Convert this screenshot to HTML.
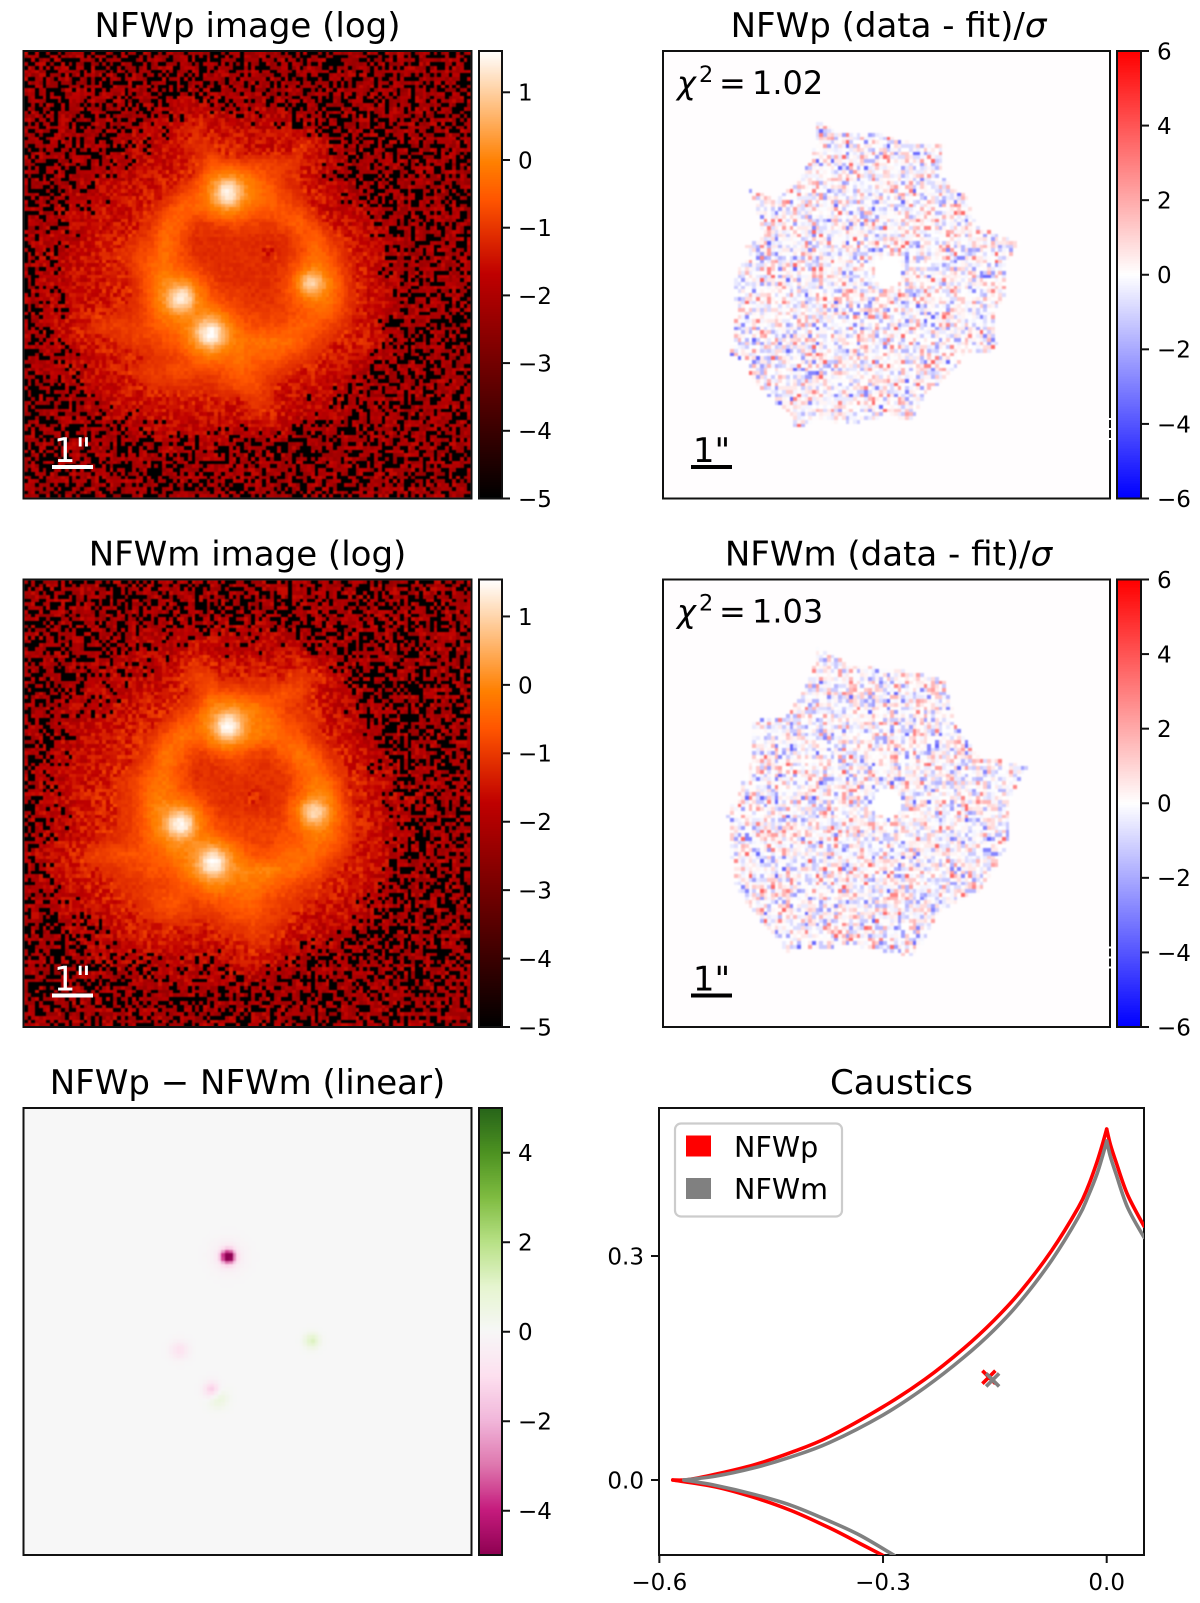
<!DOCTYPE html>
<html lang="en">
<head>
<meta charset="utf-8">
<title>NFWp / NFWm lens model comparison</title>
<style>
html,body{margin:0;padding:0;background:#fff;}
#figure{position:relative;width:1200px;height:1603px;overflow:hidden;background:#fff;font-family:"DejaVu Sans","Liberation Sans",sans-serif;}
canvas{position:absolute;display:block;}
.heat-log{filter:blur(.45px);}
.heat-soft{filter:blur(.7px);}
svg{position:absolute;left:0;top:0;}
svg text{font-family:"DejaVu Sans","Liberation Sans",sans-serif;fill:#000;}
</style>
</head>
<body>
<div id="figure">
  <canvas id="heat-p" class="heat-log" width="447" height="447" style="left:24px;top:51px"></canvas>
  <canvas id="cb-p" width="23" height="447" style="left:479px;top:51px"></canvas>
  <canvas id="res-p" class="heat-soft" width="447" height="447" style="left:663px;top:51px"></canvas>
  <canvas id="cbr-p" width="24" height="447" style="left:1117px;top:51px"></canvas>
  <canvas id="heat-m" class="heat-log" width="447" height="447" style="left:24px;top:580px"></canvas>
  <canvas id="cb-m" width="23" height="447" style="left:479px;top:580px"></canvas>
  <canvas id="res-m" class="heat-soft" width="447" height="447" style="left:663px;top:580px"></canvas>
  <canvas id="cbr-m" width="24" height="447" style="left:1117px;top:580px"></canvas>
  <canvas id="diff" class="heat-soft" width="447" height="447" style="left:24px;top:1108px"></canvas>
  <canvas id="cb-d" width="23" height="447" style="left:479px;top:1108px"></canvas>

  <svg id="overlay" width="1200" height="1603" viewBox="0 0 1200 1603">
    <defs><clipPath id="caustic-clip"><rect x="659" y="1108" width="485" height="447"/></clipPath></defs>

    <text x="247.5" y="37" font-size="34" text-anchor="middle">NFWp image (log)</text>
    <text x="888.5" y="37" font-size="34" text-anchor="middle">NFWp (data - fit)/<tspan font-style="italic">σ</tspan></text>
    <text x="247.5" y="565.5" font-size="34" text-anchor="middle">NFWm image (log)</text>
    <text x="888.5" y="565.5" font-size="34" text-anchor="middle">NFWm (data - fit)/<tspan font-style="italic">σ</tspan></text>
    <text x="247.5" y="1094" font-size="34" text-anchor="middle">NFWp − NFWm (linear)</text>
    <text x="901.5" y="1094" font-size="34" text-anchor="middle">Caustics</text>

    <text y="94" font-size="32"><tspan x="677" font-style="italic">χ</tspan><tspan x="699" y="82" font-size="22.4">2</tspan><tspan x="719" y="94">=</tspan><tspan x="752" y="94">1.02</tspan></text>
    <text y="622.5" font-size="32"><tspan x="677" font-style="italic">χ</tspan><tspan x="699" y="610.5" font-size="22.4">2</tspan><tspan x="719" y="622.5">=</tspan><tspan x="752" y="622.5">1.03</tspan></text>

    <g>
      <rect x="52" y="465" width="41" height="4" style="fill:#fff"/>
      <text x="72.5" y="462" font-size="34" text-anchor="middle" style="fill:#fff">1"</text>
    </g>
    <g>
      <rect x="52" y="993.5" width="41" height="4" style="fill:#fff"/>
      <text x="72.5" y="990.5" font-size="34" text-anchor="middle" style="fill:#fff">1"</text>
    </g>
    <g>
      <rect x="691" y="465" width="41" height="4"/>
      <text x="711.5" y="462" font-size="34" text-anchor="middle">1"</text>
    </g>
    <g>
      <rect x="691" y="993.5" width="41" height="4"/>
      <text x="711.5" y="990.5" font-size="34" text-anchor="middle">1"</text>
    </g>

    <g id="frames" fill="none" stroke="#111" stroke-width="2">
      <rect x="23.5" y="51" width="448" height="447.5"/>
      <rect x="479" y="51" width="23" height="447.5"/>
      <rect x="663" y="51" width="447" height="447.5"/>
      <rect x="1117" y="51" width="24" height="447.5"/>
      <rect x="23.5" y="579.5" width="448" height="447.5"/>
      <rect x="479" y="579.5" width="23" height="447.5"/>
      <rect x="663" y="579.5" width="447" height="447.5"/>
      <rect x="1117" y="579.5" width="24" height="447.5"/>
      <rect x="23.5" y="1108" width="448" height="447"/>
      <rect x="479" y="1108" width="23" height="447"/>
      <rect x="659" y="1108" width="485" height="447"/>
    </g>

    <g>
      <rect x="1108.5" y="418" width="3" height="2" style="fill:#fff"/>
      <rect x="1108.5" y="428" width="3" height="2" style="fill:#fff"/>
      <rect x="1108.5" y="438" width="3" height="2" style="fill:#fff"/>
      <rect x="1108.5" y="946.5" width="3" height="2" style="fill:#fff"/>
      <rect x="1108.5" y="956.5" width="3" height="2" style="fill:#fff"/>
      <rect x="1108.5" y="966.5" width="3" height="2" style="fill:#fff"/>
    </g>

    <g id="ticks"></g>
    <g id="caustic-lines" clip-path="url(#caustic-clip)"></g>
    <g id="source-marks"></g>

    <g>
      <rect x="675" y="1123.5" width="167" height="93" rx="6" ry="6" fill="#fff" fill-opacity=".8" stroke="#ccc" stroke-width="2.2"/>
      <rect x="686" y="1135.5" width="25" height="21" fill="#f00"/>
      <text x="734" y="1157" font-size="28.6">NFWp</text>
      <rect x="686" y="1178" width="25" height="21" fill="#808080"/>
      <text x="734" y="1199" font-size="28.6">NFWm</text>
    </g>
  </svg>
</div>

<script>
/* ---------- tick values ---------- */
const logTicks = [-5, -4, -3, -2, -1, 0, 1];
const residualTicks = [-6, -4, -2, 0, 2, 4, 6];
const diffTicks = [-4, -2, 0, 2, 4];
const causticXTicks = [-0.6, -0.3, 0.0];
const causticYTicks = [0.0, 0.3];

/* ---------- colour limits ---------- */
const logLimitsP = [-5, 1.61];
const logLimitsM = [-5, 1.54];
const residualLimits = [-6, 6];
const diffLimits = [-5, 5];

/* ---------- log flux, estimated by eye on a coarse 30x30 grid: level n = log10 flux of -2 + 0.22 n ---------- */
const imageLevelsP = [
[0,0,0,0,0,0,0,0,0,0,0,0,0,0,0,0,0,0,0,0,0,0,0,0,0,0,0,0,0,0],
[0,0,0,0,0,0,0,0,0,0,0,0,0,0,0,0,0,0,0,0,0,0,0,0,0,0,0,0,0,0],
[0,0,0,0,0,0,0,0,0,0,0,0,0,0,0,0,0,0,0,0,0,0,0,0,0,0,0,0,0,0],
[0,0,0,0,0,0,0,0,0,0,1,1,1,1,1,1,0,0,0,0,0,0,0,0,0,0,0,0,0,0],
[0,0,0,0,0,0,0,0,1,1,1,2,2,1,1,1,1,1,0,0,0,0,0,0,0,0,0,0,0,0],
[0,0,0,0,0,0,0,1,1,1,2,4,3,2,2,2,2,2,2,1,0,0,0,0,0,0,0,0,0,0],
[0,0,0,0,0,0,1,1,1,2,2,4,4,3,3,2,2,2,4,3,1,0,0,0,0,0,0,0,0,0],
[0,0,0,0,0,1,1,1,2,2,3,3,6,4,4,5,5,5,4,2,1,0,0,0,0,0,0,0,0,0],
[0,0,0,0,1,1,1,2,2,3,3,4,7,8,8,7,6,4,3,2,1,0,0,0,0,0,0,0,0,0],
[0,0,0,1,1,1,2,2,3,3,5,6,7,8,8,8,7,5,4,3,2,1,0,0,0,0,0,0,0,0],
[0,0,1,1,1,2,2,3,3,5,7,7,7,7,7,7,7,6,5,3,2,1,1,0,0,0,0,0,0,0],
[0,0,1,1,2,2,2,3,4,7,7,5,4,4,5,5,5,6,7,5,3,2,1,1,0,0,0,0,0,0],
[0,1,1,1,2,3,3,4,5,8,6,4,4,4,4,4,4,4,6,7,5,3,2,1,1,0,0,0,0,0],
[0,1,1,2,2,3,4,5,6,8,6,4,4,4,4,4,3,4,5,8,6,4,3,2,1,0,0,0,0,0],
[0,1,1,2,2,3,3,5,7,8,6,5,4,4,4,4,4,4,5,8,7,4,3,2,1,0,0,0,0,0],
[0,1,1,2,2,3,3,4,7,9,7,5,5,4,4,4,4,4,5,7,8,5,3,2,1,0,0,0,0,0],
[0,1,1,2,2,3,3,4,6,9,8,6,5,5,5,4,4,5,5,7,8,5,3,2,1,0,0,0,0,0],
[0,1,1,2,3,3,4,4,6,8,8,7,6,5,5,5,5,5,6,7,7,5,3,2,1,0,0,0,0,0],
[0,1,2,3,4,5,5,5,6,7,7,8,8,7,6,6,6,6,7,7,5,4,3,2,1,0,0,0,0,0],
[0,1,1,2,3,3,4,5,5,6,6,7,8,8,8,8,8,8,7,5,4,3,3,2,1,0,0,0,0,0],
[0,0,1,1,2,3,3,3,4,5,5,6,6,7,8,7,7,6,5,4,3,2,2,1,0,0,0,0,0,0],
[0,0,1,1,2,2,3,4,5,5,6,5,5,6,7,6,5,4,3,3,2,2,1,0,0,0,0,0,0,0],
[0,0,0,1,1,2,2,3,4,4,4,4,4,5,6,6,4,3,2,2,2,1,1,0,0,0,0,0,0,0],
[0,0,0,0,1,1,2,2,3,3,3,3,3,3,3,5,4,2,2,1,1,1,0,0,0,0,0,0,0,0],
[0,0,0,0,0,1,1,1,2,2,2,2,2,2,2,3,3,2,1,1,1,0,0,0,0,0,0,0,0,0],
[0,0,0,0,0,0,0,1,1,1,1,1,1,1,1,1,1,1,0,0,0,0,0,0,0,0,0,0,0,0],
[0,0,0,0,0,0,0,0,0,1,1,1,1,1,0,0,0,0,0,0,0,0,0,0,0,0,0,0,0,0],
[0,0,0,0,0,0,0,0,0,0,0,0,0,0,0,0,0,0,0,0,0,0,0,0,0,0,0,0,0,0],
[0,0,0,0,0,0,0,0,0,0,0,0,0,0,0,0,0,0,0,0,0,0,0,0,0,0,0,0,0,0],
[0,0,0,0,0,0,0,0,0,0,0,0,0,0,0,0,0,0,0,0,0,0,0,0,0,0,0,0,0,0]
];
const imageLevelsM = [
[0,0,0,0,0,0,0,0,0,0,0,0,0,0,0,0,0,0,0,0,0,0,0,0,0,0,0,0,0,0],
[0,0,0,0,0,0,0,0,0,0,0,0,0,0,0,0,0,0,0,0,0,0,0,0,0,0,0,0,0,0],
[0,0,0,0,0,0,0,0,0,0,0,0,0,0,0,0,0,0,0,0,0,0,0,0,0,0,0,0,0,0],
[0,0,0,0,0,0,0,0,0,1,1,1,1,1,1,1,1,0,0,0,0,0,0,0,0,0,0,0,0,0],
[0,0,0,0,0,0,0,1,1,1,1,2,2,1,1,1,1,1,1,0,0,0,0,0,0,0,0,0,0,0],
[0,0,0,0,0,0,1,1,1,1,2,4,3,2,2,2,2,2,3,2,1,0,0,0,0,0,0,0,0,0],
[0,0,0,0,0,1,1,1,1,2,3,5,5,3,3,3,3,3,5,4,2,1,0,0,0,0,0,0,0,0],
[0,0,0,0,1,1,1,2,2,2,3,4,6,5,5,5,5,6,5,3,2,1,0,0,0,0,0,0,0,0],
[0,0,0,1,1,1,2,2,3,3,4,5,8,8,8,8,7,5,4,3,2,1,0,0,0,0,0,0,0,0],
[0,0,1,1,1,2,2,3,3,4,6,7,8,9,9,8,8,6,5,4,2,2,1,0,0,0,0,0,0,0],
[0,0,1,1,2,2,3,3,4,6,8,7,7,7,7,8,8,7,6,4,3,2,1,0,0,0,0,0,0,0],
[0,0,1,1,2,2,3,3,5,8,7,5,4,4,5,5,5,7,8,6,4,3,2,1,0,0,0,0,0,0],
[0,1,1,2,2,3,3,4,6,8,6,4,4,4,5,4,4,5,7,8,5,3,2,1,1,0,0,0,0,0],
[0,1,1,2,2,3,4,5,7,8,6,4,4,4,4,4,4,4,6,8,7,4,3,2,1,0,0,0,0,0],
[0,1,1,2,3,3,4,5,8,8,6,5,4,4,4,3,4,4,5,8,8,4,3,2,1,1,0,0,0,0],
[0,1,1,2,3,3,4,5,8,9,7,5,5,4,4,4,4,4,5,8,8,5,3,2,1,1,0,0,0,0],
[0,1,1,2,3,3,4,5,7,9,8,6,5,5,5,5,5,5,6,8,8,5,3,2,1,1,0,0,0,0],
[0,1,2,2,3,4,4,5,7,8,8,8,6,5,5,5,5,6,6,8,7,5,3,2,1,1,0,0,0,0],
[1,1,2,3,5,5,6,6,6,7,8,8,8,7,7,6,6,7,8,7,6,4,3,2,1,0,0,0,0,0],
[0,1,2,3,3,4,4,5,6,6,7,8,8,9,9,9,9,8,7,6,4,3,3,2,1,0,0,0,0,0],
[0,1,1,2,3,3,4,4,5,5,6,6,7,8,8,8,7,6,5,4,3,3,2,1,0,0,0,0,0,0],
[0,0,1,1,2,3,3,4,5,6,6,5,6,6,7,7,5,5,4,3,3,2,1,1,0,0,0,0,0,0],
[0,0,1,1,1,2,3,3,4,5,5,4,4,5,6,6,5,4,3,2,2,2,1,0,0,0,0,0,0,0],
[0,0,0,1,1,1,2,3,3,3,3,3,3,4,4,5,4,3,2,2,1,1,0,0,0,0,0,0,0,0],
[0,0,0,0,1,1,1,2,2,2,2,2,2,2,3,4,3,2,1,1,1,0,0,0,0,0,0,0,0,0],
[0,0,0,0,0,1,1,1,1,1,1,1,1,1,2,2,2,1,1,0,0,0,0,0,0,0,0,0,0,0],
[0,0,0,0,0,0,0,0,1,1,1,1,1,1,1,1,0,0,0,0,0,0,0,0,0,0,0,0,0,0],
[0,0,0,0,0,0,0,0,0,0,0,0,0,0,0,0,0,0,0,0,0,0,0,0,0,0,0,0,0,0],
[0,0,0,0,0,0,0,0,0,0,0,0,0,0,0,0,0,0,0,0,0,0,0,0,0,0,0,0,0,0],
[0,0,0,0,0,0,0,0,0,0,0,0,0,0,0,0,0,0,0,0,0,0,0,0,0,0,0,0,0,0]
];

/* ---------- quasar images (A top, B left, C bottom, D right), in heatmap cell units; peak = log10 flux ---------- */
const quasarColP = [54.7, 42.1, 50.0, 77.3];
const quasarRowP = [38.2, 66.4, 75.8, 62.5];
const quasarPeakP = [1.40, 1.35, 1.55, 0.95];
const quasarColM = [54.8, 42.0, 50.7, 77.9];
const quasarRowM = [39.3, 65.6, 75.9, 62.3];
const quasarPeakM = [1.45, 1.40, 1.50, 1.05];

/* ---------- difference panel blobs ---------- */
const diffCol = [54.8, 54.8, 41.7, 50.4, 52.0, 77.3];
const diffRow = [39.9, 39.9, 65.0, 75.7, 77.9, 62.5];
const diffValue = [-5.5, -0.6, -0.9, -1.6, 0.8, 1.2];
const diffWidth = [1.3, 3.0, 1.7, 1.5, 1.8, 1.4];

/* ---------- residual footprint outline (heatmap cell units) ---------- */
const maskColP = [41.3,47.5,58.3,63.6,70.8,75.7,74.4,76.6,81.5,84.2,95.8,91.4,92.3,88.7,89.6,87.8,81.5,76.2,70.8,67.2,60,50.2,40.4,35.9,34.1,30.5,24.2,22.4,18,19.8,18.9,20.2,23.3,22.4,26.9,24.2,22.4,30.5,35.9,39.5,40.8];
const maskRowP = [18.5,22.1,22.1,24.3,24.8,24.8,31,35.5,39.1,47.2,51.6,57.9,65,70.4,78.5,81.2,81.2,87.4,91.9,99,98.2,100,99,101.7,97.3,94.6,89.2,83.8,81.6,70.4,63.3,58.8,55.2,52.5,49.8,39.1,36.9,40,34.6,30.2,24.8];
const maskColM = [41.5,49.8,63.5,75.8,78.6,85.4,92.3,97.8,93.7,92.3,85.4,74.4,67.6,49.8,33.3,26.4,19.6,18.2,17.4,21,23.7,23.7,33.3,40.1];
const maskRowM = [18.1,22.8,24.1,26.9,39.2,47.5,48.8,50.2,57,72.2,83.1,88.6,101,98.2,99.6,91.4,83.1,72.2,62.5,55.7,48.8,37.9,36.5,25.5];
const holeCol = [60.5, 60.2];
const holeRow = [59.2, 59.8];
const holeRadius = [4.0, 3.9];

/* ---------- hand-typed noise texture: an approximation of the pixel noise, not a per-pixel reading ---------- */
const noiseRows = [
"72915038461729036482917350628419375064182",
"30684192753068142975306184297530861429750",
"58217046395827104639582710463985271046398",
"14960378251496037285149603725814960372581",
"96035281749603528174960352817496035281479",
"27481906352748190635274819063527481960352",
"61350792846135079284613507928461350972846",
"05829374160582937416058293741605829374160",
"83176405928317640592831764059283176450928",
"49602817354960281735496028173549602871354",
"32764950183276495018327649501832764905183",
"76108293547610829354761082935476108923547",
"19543760821954376082195437608219543706821",
"50827134965082713496508271349650827314965",
"84391605278439160527843916052784391650278",
"26075948312607594831260759483126075984312",
"71948320657194832065719483206571948230657",
"43260759184326075918432607591843260579184",
"95817204369581720436958172043695817024369",
"08432691750843269175084326917508432961750",
"67105938426710593842671059384267105398426",
"32986417053298641705329864170532986147053",
"14753086291475308629147530862914753806291",
"89620475138962047513896204751389620745138",
"50391827645039182764503918276450391287645",
"26847103952684710395268471039526847301952",
"73059268417305926841730592684173059628417",
"41726950384172695038417269503841726590384",
"98264013759826401375982640137598264103759",
"05138742960513874296051387429605138472960",
"62490385176249038517624903851762490835176",
"37815692403781569240378156924037815962403",
"80576124398057612439805761243980576214398",
"13902867541390286754139028675413902687541",
"46783015924678301592467830159246783105924",
"75239648107523964810752396481075239468107",
"29164570832916457083291645708329164507832"
];

/* ---------- caustic curves (arcsec) ---------- */
const nfwpUpperX = [-0.582,-0.5615,-0.5256,-0.474,-0.423,-0.372,-0.30,-0.2436,-0.192,-0.151,-0.115,-0.074,-0.038,-0.025,-0.013,-0.005,0.0];
const nfwpUpperY = [0.0,0.0005,0.0075,0.020,0.037,0.058,0.098,0.135,0.176,0.214,0.253,0.307,0.365,0.393,0.426,0.452,0.470];
const nfwpRightX = [0.0,0.005,0.0128,0.028,0.05];
const nfwpRightY = [0.470,0.449,0.425,0.382,0.340];
const nfwpLowerX = [-0.582,-0.5256,-0.474,-0.423,-0.372,-0.331,-0.300];
const nfwpLowerY = [0.0,-0.009,-0.023,-0.041,-0.064,-0.085,-0.101];
const nfwmUpperX = [-0.567,-0.5256,-0.474,-0.423,-0.372,-0.30,-0.2436,-0.192,-0.151,-0.115,-0.074,-0.038,-0.025,-0.013,-0.005,0.0];
const nfwmUpperY = [0.0,0.005,0.016,0.031,0.050,0.087,0.124,0.164,0.201,0.240,0.294,0.352,0.380,0.410,0.436,0.454];
const nfwmRightX = [0.0,0.005,0.0128,0.028,0.05];
const nfwmRightY = [0.454,0.433,0.409,0.365,0.325];
const nfwmLowerX = [-0.567,-0.5256,-0.474,-0.423,-0.372,-0.331,-0.285];
const nfwmLowerY = [0.0,-0.007,-0.019,-0.034,-0.055,-0.074,-0.101];
const sourceNfwpX = [-0.158];
const sourceNfwpY = [0.1377];
const sourceNfwmX = [-0.153];
const sourceNfwmY = [0.134];

/* ---------- axis functions ---------- */
const CELLS = 120;
const PANEL = 447;
const cellX = c => c * PANEL / CELLS;
const cellY = r => r * PANEL / CELLS;
const causticX = v => 1106.7 + v * 745.6;
const causticY = v => 1480 - v * 746.7;
const barY = (v, lim, top, h) => top + (lim[1] - v) / (lim[1] - lim[0]) * h;

/* ---------- colour maps ---------- */
const clamp = (v, a, b) => Math.max(a, Math.min(b, v));
const rgb = (r, g, b) => 'rgb(' + Math.round(r * 255) + ',' + Math.round(g * 255) + ',' + Math.round(b * 255) + ')';
function gistHeat(t) {
  t = clamp(t, 0, 1);
  return rgb(clamp(1.5 * t, 0, 1), clamp(2 * t - 1, 0, 1), clamp(4 * t - 3, 0, 1));
}
function bwr(t) {
  t = clamp(t, 0, 1);
  return t < .5 ? rgb(2 * t, 2 * t, 1) : rgb(1, 2 - 2 * t, 2 - 2 * t);
}
const piygStops = [[142,1,82],[197,27,125],[222,119,174],[241,182,218],[253,224,239],[247,247,247],[230,245,208],[184,225,134],[127,188,65],[77,146,33],[39,100,25]];
function piyg(t) {
  t = clamp(t, 0, 1) * 10;
  const i = Math.min(9, Math.floor(t)), f = t - i, a = piygStops[i], b = piygStops[i + 1];
  return 'rgb(' + Math.round(a[0] + (b[0] - a[0]) * f) + ',' + Math.round(a[1] + (b[1] - a[1]) * f) + ',' + Math.round(a[2] + (b[2] - a[2]) * f) + ')';
}

function tileAt(r, c) {
  const row = noiseRows[((r % noiseRows.length) + noiseRows.length) % noiseRows.length];
  return +row[((c % row.length) + row.length) % row.length];
}
/* two lookups into the typed tile, so its row repeats do not show as diagonal stripes */
function noiseAt(r, c) {
  const a = tileAt(r, c);
  const b = tileAt(c * 3 + r * 7 + a, r * 5 + c * 2 + 11);
  return (a * 3 + b * 7) % 10;
}
function paintCells(ctx, valueAt, colorOf) {
  for (let r = 0; r < CELLS; r++) {
    for (let c = 0; c < CELLS; c++) {
      const v = valueAt(c, r);
      if (v === null) continue;
      const x0 = Math.round(cellX(c)), x1 = Math.round(cellX(c + 1));
      const y0 = Math.round(cellY(r)), y1 = Math.round(cellY(r + 1));
      ctx.fillStyle = colorOf(v);
      ctx.fillRect(x0, y0, x1 - x0, y1 - y0);
    }
  }
}

/* ---------- log images ---------- */
function coarseLog(matrix, c, r) {
  const n = matrix.length;
  const gx = clamp((c + .5) / CELLS * n - .5, 0, n - 1.001);
  const gy = clamp((r + .5) / CELLS * n - .5, 0, n - 1.001);
  const i = Math.floor(gx), j = Math.floor(gy), fx = gx - i, fy = gy - j;
  const m = (a, b) => matrix[a][b] || 0;
  const level = m(j, i) * (1 - fx) * (1 - fy) + m(j, i + 1) * fx * (1 - fy) + m(j + 1, i) * (1 - fx) * fy + m(j + 1, i + 1) * fx * fy;
  return -2 + .22 * level;
}
function drawLogImage(id, matrix, cols, rows, peaks, lim, shift) {
  const ctx = document.getElementById(id).getContext('2d');
  ctx.fillStyle = '#000';
  ctx.fillRect(0, 0, PANEL, PANEL);
  paintCells(ctx, (c, r) => {
    const base = coarseLog(matrix, c, r);
    let flux = Math.pow(10, base);
    for (let k = 0; k < cols.length; k++) {
      const dx = c + .5 - cols[k], dy = r + .5 - rows[k];
      const d2 = dx * dx + dy * dy;
      const peak = Math.pow(10, peaks[k]);
      flux += peak * Math.exp(-d2 / (2 * 1.55 * 1.55)) + peak * .08 * Math.exp(-d2 / (2 * 3.4 * 3.4));
    }
    const dropRate = clamp((-1.55 - base) * .85, 0, .38);
    const drop = (noiseAt(r + shift, c + 2 * shift) + noiseAt(c + shift, r + 5) / 10 + .5) / 11;
    if (drop < dropRate) return -5;
    const grain = base < -1.2 ? .09 : .025;
    return Math.log10(flux) + (noiseAt(c + 3, r + shift) - 4.5) * grain;
  }, v => gistHeat((v - lim[0]) / (lim[1] - lim[0])));
}
drawLogImage('heat-p', imageLevelsP, quasarColP, quasarRowP, quasarPeakP, logLimitsP, 0);
drawLogImage('heat-m', imageLevelsM, quasarColM, quasarRowM, quasarPeakM, logLimitsM, 13);

/* ---------- residual images ---------- */
function insidePolygon(px, py, xs, ys) {
  let inside = false;
  for (let i = 0, j = xs.length - 1; i < xs.length; j = i++) {
    if ((ys[i] > py) !== (ys[j] > py) && px < (xs[j] - xs[i]) * (py - ys[i]) / (ys[j] - ys[i]) + xs[i]) inside = !inside;
  }
  return inside;
}
function drawResidual(id, xs, ys, hole, shift) {
  const ctx = document.getElementById(id).getContext('2d');
  ctx.fillStyle = '#fffdfe';
  ctx.fillRect(0, 0, PANEL, PANEL);
  paintCells(ctx, (c, r) => {
    const cx = c + .5, cy = r + .5;
    if (!insidePolygon(cx, cy, xs, ys)) return null;
    const hx = cx - holeCol[hole], hy = cy - holeRow[hole];
    if (hx * hx + hy * hy < holeRadius[hole] * holeRadius[hole]) return 0;
    const z = (noiseAt(r + shift, c + 7 + shift) - 4.5) / 4.5;
    const z2 = (noiseAt(c + shift, r + 19) - 4.5) / 4.5;
    const mix = (z + z2) / 1.6;
    return Math.sign(mix) * Math.pow(Math.abs(mix), 1.8) * 2.4;
  }, v => bwr((v - residualLimits[0]) / (residualLimits[1] - residualLimits[0])));
}
drawResidual('res-p', maskColP, maskRowP, 0, 0);
drawResidual('res-m', maskColM, maskRowM, 1, 9);

/* ---------- difference image ---------- */
(function () {
  const ctx = document.getElementById('diff').getContext('2d');
  paintCells(ctx, (c, r) => {
    let v = 0;
    for (let k = 0; k < diffCol.length; k++) {
      const dx = c + .5 - diffCol[k], dy = r + .5 - diffRow[k];
      v += diffValue[k] * Math.exp(-(dx * dx + dy * dy) / (2 * diffWidth[k] * diffWidth[k]));
    }
    return v;
  }, v => piyg((v - diffLimits[0]) / (diffLimits[1] - diffLimits[0])));
})();

/* ---------- colorbars ---------- */
function drawColorbar(id, cmap) {
  const cv = document.getElementById(id), ctx = cv.getContext('2d');
  for (let y = 0; y < cv.height; y++) {
    ctx.fillStyle = cmap(1 - (y + .5) / cv.height);
    ctx.fillRect(0, y, cv.width, 1);
  }
}
drawColorbar('cb-p', gistHeat);
drawColorbar('cb-m', gistHeat);
drawColorbar('cbr-p', bwr);
drawColorbar('cbr-m', bwr);
drawColorbar('cb-d', piyg);

/* ---------- SVG axes ---------- */
const SVGNS = 'http://www.w3.org/2000/svg';
function svgEl(tag, attrs, parent) {
  const el = document.createElementNS(SVGNS, tag);
  for (const k in attrs) el.setAttribute(k, attrs[k]);
  parent.appendChild(el);
  return el;
}
const tickLayer = document.getElementById('ticks');
const fmtInt = v => String(v).replace('-', '\u2212');
const fmtOne = v => v.toFixed(1).replace('-', '\u2212');

function colorbarTicks(values, lim, top, x, label) {
  values.forEach(v => {
    const y = barY(v, lim, top, 447.5);
    const t = svgEl('line', {x1: x, x2: x + 8, y1: y, y2: y, stroke: '#111', 'stroke-width': 2}, tickLayer);
    
    
    const s = svgEl('text', {x: x + 16, y: y + 8.4, 'font-size': 23}, tickLayer);
    
    
    s.textContent = fmtInt(v);
  });
}
colorbarTicks(logTicks, logLimitsP, 51, 502, 'nfwp-log-colorbar');
colorbarTicks(logTicks, logLimitsM, 579.5, 502, 'nfwm-log-colorbar');
colorbarTicks(residualTicks, residualLimits, 51, 1141, 'nfwp-residual-colorbar');
colorbarTicks(residualTicks, residualLimits, 579.5, 1141, 'nfwm-residual-colorbar');
colorbarTicks(diffTicks, diffLimits, 1108, 502, 'difference-colorbar');

causticXTicks.forEach(v => {
  const x = causticX(v);
  const t = svgEl('line', {x1: x, x2: x, y1: 1555, y2: 1563, stroke: '#111', 'stroke-width': 2}, tickLayer);
  
  
  const s = svgEl('text', {x: x, y: 1590, 'font-size': 23, 'text-anchor': 'middle'}, tickLayer);
  
  
  s.textContent = fmtOne(v);
});
causticYTicks.forEach(v => {
  const y = causticY(v);
  const t = svgEl('line', {x1: 651, x2: 659, y1: y, y2: y, stroke: '#111', 'stroke-width': 2}, tickLayer);
  
  
  const s = svgEl('text', {x: 644, y: y + 8.4, 'font-size': 23, 'text-anchor': 'end'}, tickLayer);
  
  
  s.textContent = fmtOne(v);
});

/* ---------- caustic curves ---------- */
function smoothPath(xs, ys) {
  const p = xs.map((x, i) => [causticX(x), causticY(ys[i])]);
  let d = 'M' + p[0][0].toFixed(2) + ' ' + p[0][1].toFixed(2);
  for (let i = 0; i < p.length - 1; i++) {
    const a = p[Math.max(0, i - 1)], b = p[i], c = p[i + 1], e = p[Math.min(p.length - 1, i + 2)];
    d += ' C' + (b[0] + (c[0] - a[0]) / 6).toFixed(2) + ' ' + (b[1] + (c[1] - a[1]) / 6).toFixed(2) + ' ' +
         (c[0] - (e[0] - b[0]) / 6).toFixed(2) + ' ' + (c[1] - (e[1] - b[1]) / 6).toFixed(2) + ' ' +
         c[0].toFixed(2) + ' ' + c[1].toFixed(2);
  }
  return d;
}
const curveLayer = document.getElementById('caustic-lines');
function drawCurve(xs, ys, color, name) {
  const el = svgEl('path', {d: smoothPath(xs, ys), fill: 'none', stroke: color, 'stroke-width': 3.6, 'stroke-linecap': 'round', 'stroke-linejoin': 'round'}, curveLayer);
  
  
}
drawCurve(nfwpUpperX, nfwpUpperY, '#f00', 'nfwp-caustic-upper');
drawCurve(nfwpRightX, nfwpRightY, '#f00', 'nfwp-caustic-right');
drawCurve(nfwpLowerX, nfwpLowerY, '#f00', 'nfwp-caustic-lower');
drawCurve(nfwmUpperX, nfwmUpperY, '#808080', 'nfwm-caustic-upper');
drawCurve(nfwmRightX, nfwmRightY, '#808080', 'nfwm-caustic-right');
drawCurve(nfwmLowerX, nfwmLowerY, '#808080', 'nfwm-caustic-lower');

/* ---------- source position crosses ---------- */
const markLayer = document.getElementById('source-marks');
function drawCross(xs, ys, color, name) {
  xs.forEach((v, i) => {
    const cx = causticX(v), cy = causticY(ys[i]), s = 6.5;
    const el = svgEl('path', {d: 'M' + (cx - s) + ' ' + (cy - s) + 'L' + (cx + s) + ' ' + (cy + s) + 'M' + (cx - s) + ' ' + (cy + s) + 'L' + (cx + s) + ' ' + (cy - s), fill: 'none', stroke: color, 'stroke-width': 3.6}, markLayer);
    
    
  });
}
drawCross(sourceNfwpX, sourceNfwpY, '#f00', 'nfwp-source-marker');
drawCross(sourceNfwmX, sourceNfwmY, '#808080', 'nfwm-source-marker');
</script>
</body>
</html>
